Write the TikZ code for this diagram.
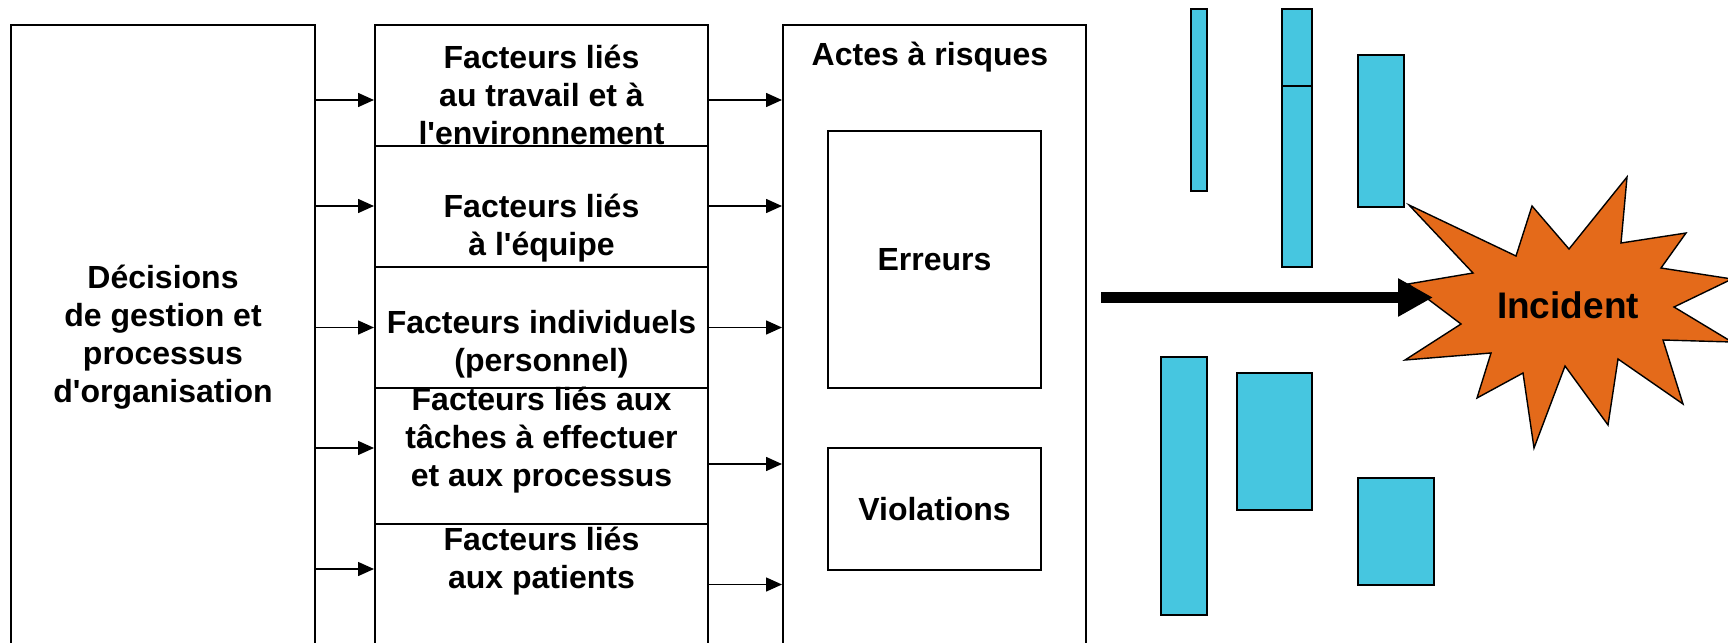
\documentclass[tikz,border=0pt]{standalone}
\usepackage{fontspec}
\setmainfont{Liberation Sans}
\usepackage{tikz}
\usetikzlibrary{arrows.meta}
\definecolor{BarCyan}{HTML}{46C6E0}
\definecolor{BurstOrange}{HTML}{E46A1A}
\newcommand{\apos}{\textquotesingle}

\begin{document}
\begin{tikzpicture}[
  x=0.5pt,y=-0.5pt,
  box/.style={draw,line width=1pt,inner sep=0pt},
  lbl/.style={align=center,font=\fontsize{16}{19}\selectfont\bfseries,inner sep=0pt},
  cell/.style={box,minimum width=166.5pt},
  bar/.style={draw,line width=0.8pt,fill=BarCyan,inner sep=0pt},
  burst/.style={draw,line width=0.7pt,fill=BurstOrange,line join=miter},
  arr/.style={-{Triangle[length=8pt,width=7pt]},line width=0.75pt},
  bigarr/.style={-{Triangle[length=17.5pt,width=18pt]},line width=5.5pt}
]
\useasboundingbox (0,0) rectangle (1728,642);
\clip (0,0) rectangle (1728,642);
% organisation
\node[box,lbl,minimum width=152pt,minimum height=312pt] (dec) at (163,337) {Décisions\\de gestion et\\processus\\d\apos organisation};
% contributing factors
\node[cell,minimum height=60.5pt] (c1) at (541.5,85.5) {};
\node[cell,minimum height=60.5pt] (c2) at (541.5,206.5) {};
\node[cell,minimum height=60.5pt] (c3) at (541.5,327.5) {};
\node[cell,minimum height=68pt] (c4) at (541.5,456) {};
\node[cell,minimum height=68pt] (c5) at (541.5,592) {};
\node[lbl] (t1) at (541.5,95) {Facteurs liés\\au travail et à\\l\apos environnement};
\node[lbl] (t2) at (541.5,228) {Facteurs liés\\à l\apos équipe};
\node[lbl] (t3) at (541.5,344) {Facteurs individuels\\(personnel)};
\node[lbl] (t4) at (541.5,440) {Facteurs liés aux\\tâches à effectuer\\et aux processus};
\node[lbl] (t5) at (541.5,561) {Facteurs liés\\aux patients};
% unsafe acts
\node[box,minimum width=151.5pt,minimum height=317.5pt] (actes) at (934.5,342.5) {};
\node[lbl] (tact) at (930,57) {Actes à risques};
\node[box,lbl,minimum width=106.5pt,minimum height=128.5pt] (err) at (934.5,259.5) {Erreurs};
\node[box,lbl,minimum width=106.5pt,minimum height=61pt] (vio) at (934.5,509) {Violations};
\foreach \c/\a/\b in {c1/100/100,c2/206/206,c3/327.5/327.5,c4/448/464,c5/569/584.5}{
  \draw[arr] (dec.east |- 0,\a) -- (\c.west |- 0,\a);
  \draw[arr] (\c.east |- 0,\b) -- (actes.west |- 0,\b);
}
% defences
\node[bar,minimum width=8pt,minimum height=91pt] (ba) at (1199,100) {};
\node[bar,minimum width=15pt,minimum height=38.5pt] (bb1) at (1297,47.5) {};
\node[bar,minimum width=15pt,minimum height=90.5pt] (bb2) at (1297,176.5) {};
\node[bar,minimum width=23pt,minimum height=76pt] (bc) at (1381,131) {};
\node[bar,minimum width=23pt,minimum height=129pt] (bd) at (1184,486) {};
\node[bar,minimum width=37.5pt,minimum height=68.5pt] (be) at (1274.5,441.5) {};
\node[bar,minimum width=38pt,minimum height=53.5pt] (bf) at (1396,531.5) {};
% incident
\draw[burst] (1409,205) -- (1516,256) -- (1532,206) -- (1569,249) -- (1627,177)
  -- (1621,243) -- (1686,233) -- (1661,268) -- (1732,279) -- (1674,307)
  -- (1732,342) -- (1663,340) -- (1683,404) -- (1618,359) -- (1608,425)
  -- (1565,366) -- (1534,448) -- (1523,373) -- (1477,398) -- (1491,353)
  -- (1405,360) -- (1461,324) -- (1408,284) -- (1473,273) -- cycle;
\node[font=\fontsize{18.5}{22}\selectfont\bfseries] (inc) at (1568,305) {Incident};
\coordinate (go) at (1101,297.5);
\coordinate (hit) at (1433,297.5);
\draw[bigarr] (go) -- (hit);
\end{tikzpicture}
\end{document}
